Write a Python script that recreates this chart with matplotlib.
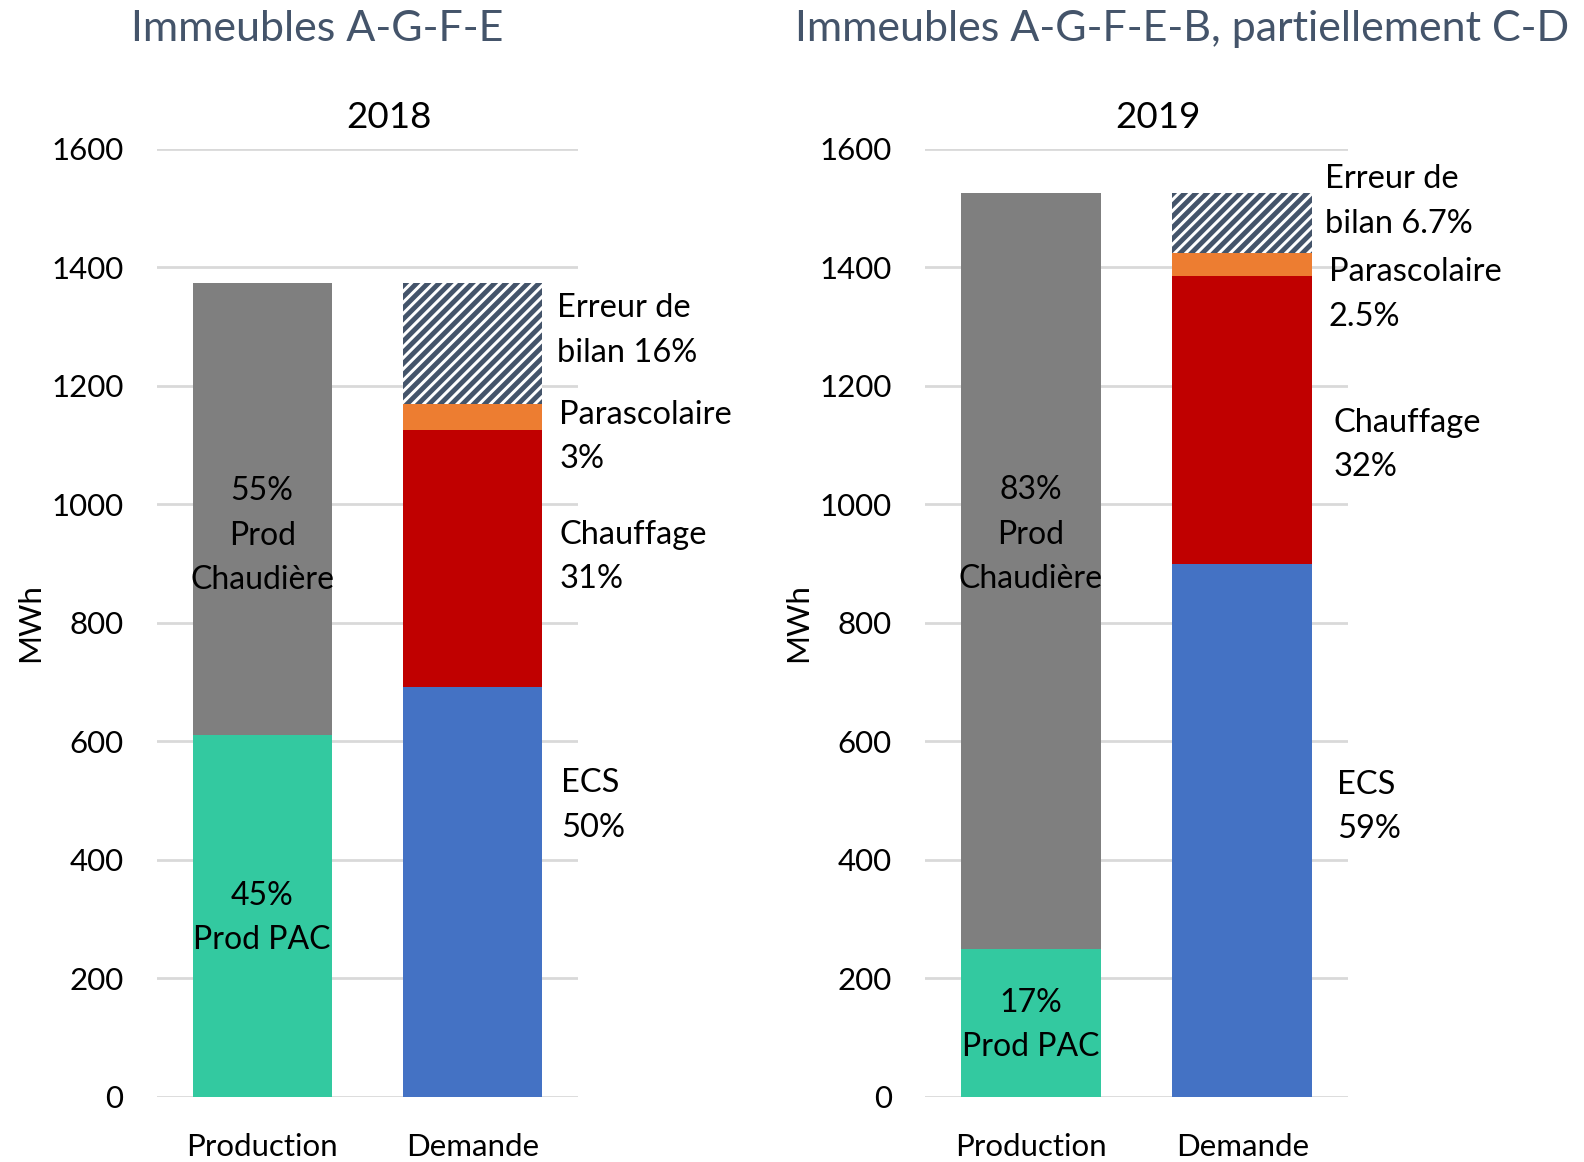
import matplotlib.pyplot as plt

plt.rcParams['font.family'] = ['Lato', 'DejaVu Sans']
plt.rcParams['hatch.linewidth'] = 3.5

# Bilan énergétique (MWh)
categories = ["Production", "Demande"]
years = ["2018", "2019"]
titles = ["Immeubles A-G-F-E", "Immeubles A-G-F-E-B, partiellement C-D"]

prod_pac = [611, 249]
prod_chaudiere = [762, 1277]
dem_ecs = [692, 899]
dem_chauffage = [434, 486]
dem_parascolaire = [43, 39]
dem_erreur = [204, 102]

prod_labels = [["45%\nProd PAC", "55%\nProd\nChaudière"],
               ["17%\nProd PAC", "83%\nProd\nChaudière"]]
dem_labels = [["ECS\n50%", "Chauffage\n31%", "Parascolaire\n3%", "Erreur de\nbilan 16%"],
              ["ECS\n59%", "Chauffage\n32%", "Parascolaire\n2.5%", "Erreur de\nbilan 6.7%"]]

c_pac = "#33C9A0"
c_chaud = "#7F7F7F"
c_ecs = "#4472C4"
c_chauf = "#C00000"
c_para = "#ED7D31"
c_err = "#44546A"

fig = plt.figure(figsize=(15.84, 11.62), dpi=100)
axes = [fig.add_axes([0.099, 0.056, 0.266, 0.816]),
        fig.add_axes([0.584, 0.056, 0.267, 0.816])]

w = 0.66
for i, ax in enumerate(axes):
    ax.bar(0, prod_pac[i], w, color=c_pac, zorder=2)
    ax.bar(0, prod_chaudiere[i], w, bottom=prod_pac[i], color=c_chaud, zorder=2)

    b = 0
    for val, col in zip([dem_ecs[i], dem_chauffage[i], dem_parascolaire[i]],
                        [c_ecs, c_chauf, c_para]):
        ax.bar(1, val, w, bottom=b, color=col, zorder=2)
        b += val
    ax.bar(1, dem_erreur[i], w, bottom=b, facecolor="white", edgecolor=c_err,
           hatch="///", linewidth=0, zorder=2)

    # labels inside production bar
    if i == 0:
        py = [302, 947]
    else:
        py = [121, 949]
    for lab, y in zip(prod_labels[i], py):
        ax.text(0, y, lab, ha="center", va="center", fontsize=23,
                linespacing=1.6, zorder=3)

    # labels to the right of demand bar
    if i == 0:
        ys = [492, 911, 1114, 1293]
        xs = [1.42, 1.41, 1.41, 1.40]
    else:
        ys = [489, 1100, 1354, 1511]
        xs = [1.45, 1.43, 1.41, 1.39]
    for lab, x, y in zip(dem_labels[i], xs, ys):
        ax.text(x, y, lab, ha="left", va="center", fontsize=23.5, linespacing=1.6,
                clip_on=False)

    ax.set_xlim(-0.5, 1.5)
    ax.set_ylim(0, 1600)
    ax.set_yticks(range(0, 1601, 200))
    ax.set_xticks([0, 1])
    ax.set_xticklabels(categories)
    ax.tick_params(axis="both", length=0, labelsize=22.5)
    ax.tick_params(axis="y", pad=24)
    ax.tick_params(axis="x", pad=26)
    ax.yaxis.grid(True, color="#D9D9D9", linewidth=2, zorder=0)
    ax.set_axisbelow(True)
    for s in ax.spines.values():
        s.set_visible(False)
    ax.set_ylabel("MWh", fontsize=22.5, labelpad=5)
    ax.text(0.55, 1.033, years[i], transform=ax.transAxes, ha="center", va="center",
            fontsize=26.5)

fig.text(0.200, 0.975, titles[0], ha="center", va="center", fontsize=31, color="#44546A")
fig.text(0.746, 0.975, titles[1], ha="center", va="center", fontsize=31, color="#44546A")

fig.savefig("out.png", dpi=100)
